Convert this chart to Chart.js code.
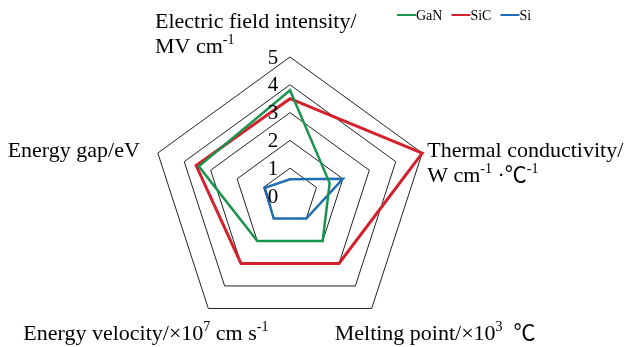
<!DOCTYPE html>
<html>
<head>
<meta charset="utf-8">
<script src="https://cdn.jsdelivr.net/npm/chart.js@4/dist/chart.umd.min.js"></script>
<style>
  html, body { margin: 0; padding: 0; background: #fff; }
</style>
</head>
<body>
<canvas id="chart" width="628" height="347"></canvas>
<script>
// axis names, ^{...} marks a superscript
const axisLabels = [
  ['Electric field intensity/', 'MV cm^{-1}'],
  ['Thermal conductivity/', 'W cm^{-1} ·℃^{-1}'],
  ['Melting point/×10^{3}  ℃'],
  ['Energy velocity/×10^{7} cm s^{-1}'],
  ['Energy gap/eV'],
];
const ganValues = [3.8, 1.5, 2.0, 2.0, 3.45];
const sicValues = [3.5, 5.0, 3.0, 3.0, 3.55];
const siValues = [0.6, 2.0, 1.0, 1.0, 0.95];
const tickLabels = ['0', '1', '2', '3', '4', '5'];

const serif = "'Liberation Serif', 'Times New Roman', 'Noto Sans CJK SC', serif";

// where each axis label sits relative to its outer vertex
const labelOffsets = [
  { dx: -135, dy: -29, align: 'left' },
  { dx: 5, dy: 4, align: 'left' },
  { dx: -37, dy: 32, align: 'left' },
  { dx: -185, dy: 32, align: 'left' },
  { dx: -18, dy: 4, align: 'right' },
];

function splitSup(str) {
  const parts = [];
  const re = /\^\{([^}]*)\}/g;
  let last = 0, m;
  while ((m = re.exec(str)) !== null) {
    if (m.index > last) parts.push({ t: str.slice(last, m.index), sup: false });
    parts.push({ t: m[1], sup: true });
    last = re.lastIndex;
  }
  if (last < str.length) parts.push({ t: str.slice(last), sup: false });
  return parts;
}

function drawRich(ctx, str, x, y, align) {
  const parts = splitSup(str);
  const normal = '22px ' + serif;
  const small = '14px ' + serif;
  let width = 0;
  parts.forEach(p => {
    ctx.font = p.sup ? small : normal;
    p.w = ctx.measureText(p.t).width;
    width += p.w;
  });
  let cx = align === 'right' ? x - width : x;
  ctx.textAlign = 'left';
  ctx.textBaseline = 'alphabetic';
  parts.forEach(p => {
    ctx.font = p.sup ? small : normal;
    ctx.fillText(p.t, cx, p.sup ? y - 9 : y);
    cx += p.w;
  });
}

const decorPlugin = {
  id: 'decor',
  afterDraw(chart) {
    const ctx = chart.ctx;
    const s = chart.scales.r;
    ctx.save();
    ctx.fillStyle = '#000';

    // tick labels, left of the top axis
    ctx.font = '21px ' + serif;
    ctx.textAlign = 'center';
    ctx.textBaseline = 'middle';
    tickLabels.forEach(t => {
      const d = s.getDistanceFromCenterForValue(Number(t));
      ctx.fillText(t, s.xCenter - 17, s.yCenter - d + 1);
    });

    // axis labels
    axisLabels.forEach((lines, i) => {
      const p = s.getPointPosition(i, s.drawingArea);
      const o = labelOffsets[i];
      lines.forEach((line, k) => {
        drawRich(ctx, line, p.x + o.dx, p.y + o.dy + k * 25, o.align);
      });
    });

    // legend
    let x = 397;
    const y = 15;
    ctx.font = '14px ' + serif;
    ctx.textBaseline = 'middle';
    ctx.textAlign = 'left';
    chart.data.datasets.forEach(ds => {
      ctx.strokeStyle = ds.borderColor;
      ctx.lineWidth = 2;
      ctx.beginPath();
      ctx.moveTo(x, y);
      ctx.lineTo(x + 19, y);
      ctx.stroke();
      x += 19;
      ctx.fillStyle = '#000';
      ctx.fillText(ds.label, x, y + 1);
      x += ctx.measureText(ds.label).width + 9;
    });
    ctx.restore();
  }
};

const ctx = document.getElementById('chart').getContext('2d');
new Chart(ctx, {
  type: 'radar',
  data: {
    labels: axisLabels.map(l => l.join(' ')),
    datasets: [
      { label: 'GaN', data: ganValues, borderColor: '#18944e', borderWidth: 2.5 },
      { label: 'SiC', data: sicValues, borderColor: '#d3222b', borderWidth: 3 },
      { label: 'Si', data: siValues, borderColor: '#1f6db3', borderWidth: 2.5 },
    ],
  },
  options: {
    responsive: false,
    animation: false,
    devicePixelRatio: 1,
    layout: { padding: { top: 57, bottom: 12, left: 151, right: 199 } },
    elements: {
      line: { fill: false, tension: 0, borderJoinStyle: 'miter' },
      point: { radius: 0, hoverRadius: 0 },
    },
    plugins: {
      legend: { display: false },
      tooltip: { enabled: false },
    },
    scales: {
      r: {
        min: 0,
        max: 5,
        ticks: { stepSize: 1, display: false, showLabelBackdrop: false },
        pointLabels: { display: false },
        angleLines: { display: false },
        grid: { color: '#222', lineWidth: 1 },
      },
    },
  },
  plugins: [decorPlugin],
});
</script>
</body>
</html>
